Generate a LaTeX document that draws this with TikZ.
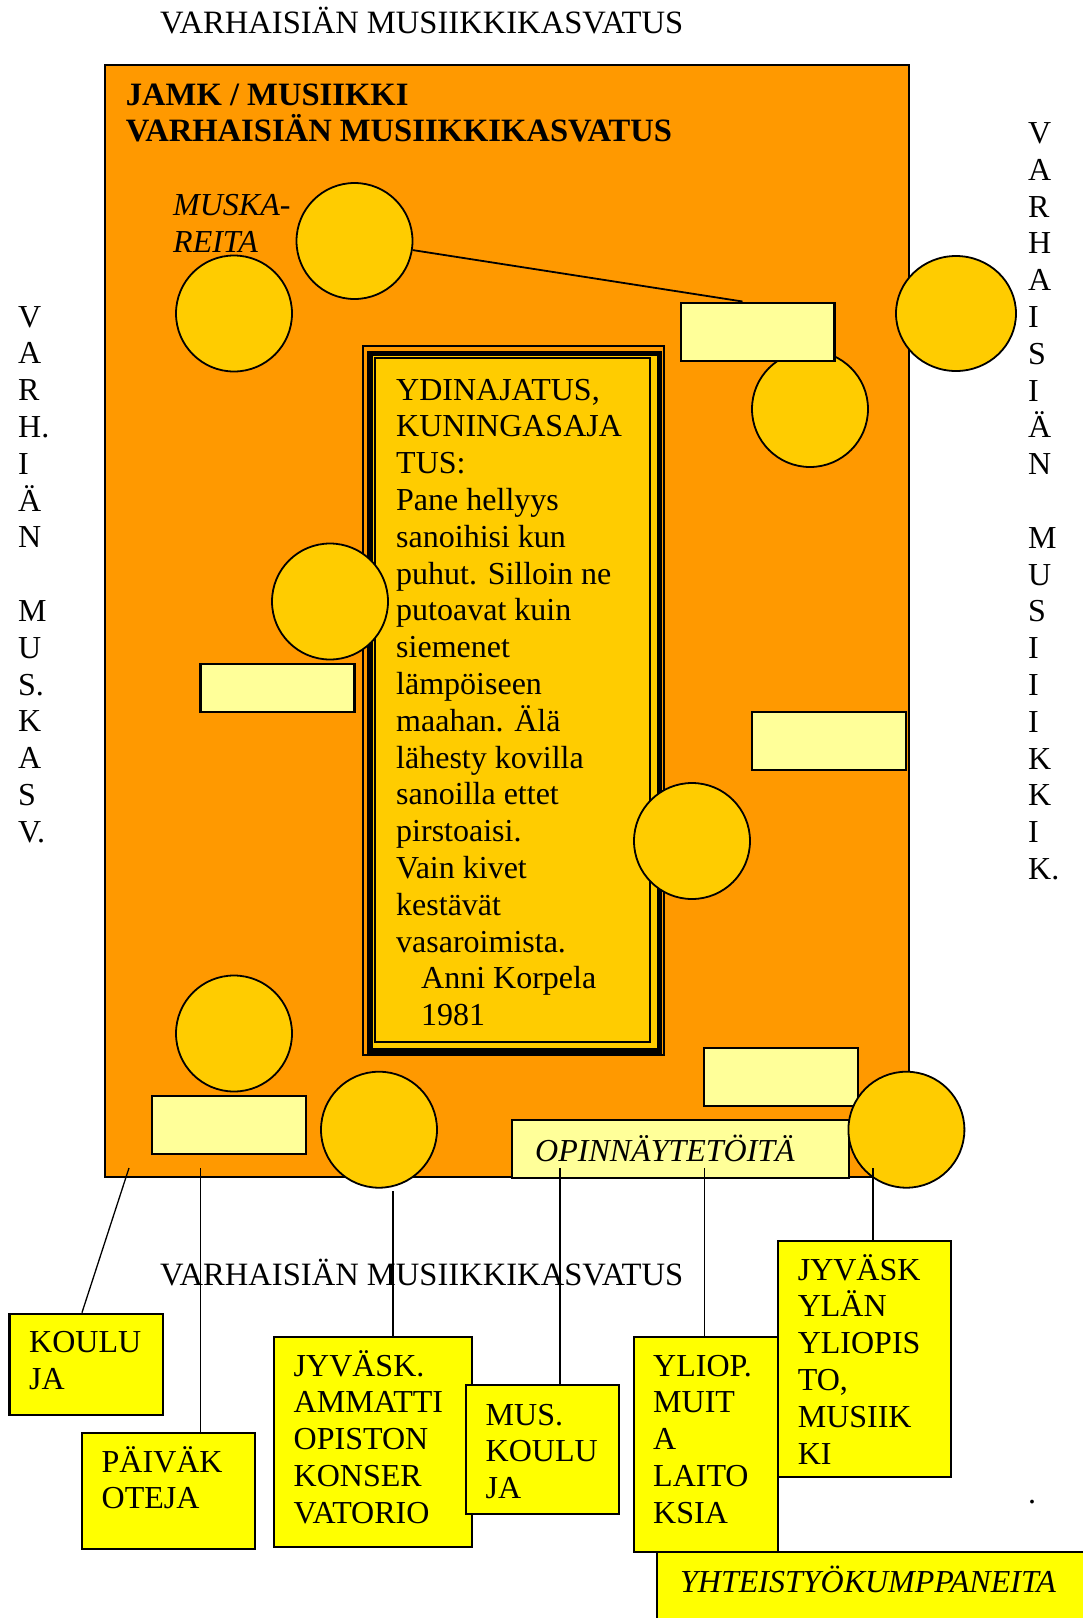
\documentclass[tikz,border=0pt]{standalone}
\usepackage{fontspec}
\setmainfont{Liberation Serif}
\usetikzlibrary{positioning,shapes.geometric}
\definecolor{jamkorange}{HTML}{FF9900}
\definecolor{ballyellow}{HTML}{FFCC00}
\definecolor{paleyellow}{HTML}{FFFF99}
\definecolor{boxyellow}{HTML}{FFFF00}

\begin{document}
\begin{tikzpicture}[
  x=1pt, y=-1pt,
  font=\fontsize{32}{36.8}\selectfont,
  mainbox/.style={draw, line width=2pt, fill=jamkorange, inner sep=0, anchor=north west},
  frameline/.style={draw, inner sep=0, anchor=north west},
  ball/.style={ellipse, draw, line width=1.8pt, fill=ballyellow, minimum width=116, minimum height=116, inner sep=0},
  slot/.style={draw, line width=2.4pt, fill=paleyellow, minimum width=154, minimum height=58, inner sep=0},
  partner/.style={draw, line width=2.2pt, fill=boxyellow, inner sep=0, anchor=north west},
  lbl/.style={inner sep=0, anchor=base west, align=left},
  link/.style={line width=1.3pt}
]
\useasboundingbox (0,0) rectangle (1083,1618);

% titles and side texts (multi-line texts are placed at their last line)
\node[lbl, font=\fontsize{32.6}{36.8}\selectfont] (toptitle) at (160,33.3) {VARHAISIÄN MUSIIKKIKASVATUS};
\node[lbl] (lefttext) at (18,842.2) {V\\A\\R\\H.\\I\\Ä\\N\\[36.8pt]M\\U\\S.\\K\\A\\S\\V.};
\node[lbl] (righttext) at (1028,879.5) {V\\A\\R\\H\\A\\I\\S\\I\\Ä\\N\\[36.8pt]M\\U\\S\\I\\I\\I\\K\\K\\I\\K.};
\node[lbl] (rightdot) at (1028,1503) {.};

% JAMK area
\node[mainbox, minimum width=804, minimum height=1112] (jamk) at (104,64) {};
\node[lbl, font=\fontsize{32.6}{36.7}\selectfont\bfseries] (jamktitle) at (125.7,141.7) {JAMK / MUSIIKKI\\VARHAISIÄN MUSIIKKIKASVATUS};
\node[lbl, font=\fontsize{32}{37}\selectfont\itshape] (muskareita) at (173,252) {MUSKA-\\REITA};

% core thought box
\node[frameline, line width=2pt, minimum width=301.3, minimum height=709] (coreout) at (361.7,345) {};
\node[frameline, line width=5.3pt, fill=ballyellow, minimum width=289.4, minimum height=697.3] (core) at (367.3,351) {};
\node[frameline, line width=2.3pt, minimum width=275.5, minimum height=683.5] (corein) at (373.5,357) {};
\node[lbl] (coretext) at (396,1025.6) {YDINAJATUS,\\KUNINGASAJA\\TUS:\\Pane hellyys\\sanoihisi kun\\puhut. Silloin ne\\putoavat kuin\\siemenet\\lämpöiseen\\maahan. Älä\\lähesty kovilla\\sanoilla ettet\\pirstoaisi.\\Vain kivet\\kestävät\\vasaroimista.\\\hspace*{25pt}Anni Korpela\\\hspace*{25pt}1981};

% empty slots and balls
\node[slot, minimum height=48] (slotB) at (277.5,688.2) {};
\node[slot] (slotC) at (829.2,741.2) {};
\node[slot] (slotD) at (781.2,1077) {};
\node[slot] (slotE) at (229,1125.2) {};
\node[slot, minimum width=337, minimum height=57.7] (opinn) at (680.5,1148.9) {};
\node[lbl, font=\fontsize{32}{36.8}\selectfont\itshape] (opinntext) at (535,1161.7) {OPINNÄYTETÖITÄ};

\node[ball] (ballA) at (354.5,241) {};
\node[ball] (ballB) at (234,313.5) {};
\node[ball, minimum width=120, minimum height=115] (ballC) at (956,313.5) {};
\node[ball] (ballD) at (810,409) {};
\node[ball] (ballE) at (330,601.5) {};
\node[ball] (ballF) at (692,841) {};
\node[ball] (ballG) at (234,1033.5) {};
\node[ball] (ballH) at (379,1129.7) {};
\node[ball] (ballI) at (906.4,1129.7) {};

\node[slot, minimum width=153.6] (slotA) at (757.5,331.7) {};
\draw[line width=1.8pt] (ballA) -- ([xshift=-15pt]slotA.north);

% lower title
\node[lbl, font=\fontsize{32.6}{36.8}\selectfont] (bottomtitle) at (160,1285) {VARHAISIÄN MUSIIKKIKASVATUS};

% partners
\node[partner, minimum width=153.7, minimum height=101.3] (koulu) at (8.3,1312.7) {};
\node[lbl] (koulutext) at (29,1389.3) {KOULU\\JA};
\node[partner, minimum width=172.7, minimum height=116] (paivak) at (80.8,1432) {};
\node[lbl] (paivaktext) at (101.5,1508.8) {PÄIVÄK\\OTEJA};
\node[partner, minimum width=198.2, minimum height=210] (ammatti) at (272.8,1336) {};
\node[lbl] (ammattitext) at (293.5,1523.2) {JYVÄSK.\\AMMATTI\\OPISTON\\KONSER\\VATORIO};
\node[partner, minimum width=153.2, minimum height=129] (muskoulu) at (464.8,1384) {};
\node[lbl] (muskoulutext) at (485.5,1498.6) {MUS.\\KOULU\\JA};
\node[partner, minimum width=144.4, minimum height=215] (yliop) at (632.6,1336) {};
\node[lbl] (yliotext) at (653,1523.2) {YLIOP.\\MUIT\\A\\LAITO\\KSIA};
\node[partner, minimum width=172.6, minimum height=236] (jyu) at (777,1240) {};
\node[lbl] (jyutext) at (797.6,1464) {JYVÄSK\\YLÄN\\YLIOPIS\\TO,\\MUSIIK\\KI};
\node[partner, minimum width=500, minimum height=100] (yhteis) at (656,1551) {};
\node[lbl, font=\fontsize{32}{36.8}\selectfont\itshape] (yhteistext) at (680,1592) {YHTEISTYÖKUMPPANEITA};

% connectors
\coordinate (kouluEnd) at (129,1168);
\coordinate (paivakEnd) at (200.3,1168);
\coordinate (ammattiEnd) at (393,1191);
\coordinate (musEnd) at (560,1168);
\coordinate (yliopEnd) at (704.4,1168);
\coordinate (jyuEnd) at (873,1168);
\draw[link] (kouluEnd) -- ([xshift=-4.3pt]koulu.north);
\draw[link] (paivakEnd) -- (paivakEnd |- paivak.north);
\draw[link] (ammattiEnd) -- (ammattiEnd |- ammatti.north);
\draw[link] (musEnd) -- (musEnd |- muskoulu.north);
\draw[link] (yliopEnd) -- (yliopEnd |- yliop.north);
\draw[link] (jyuEnd) -- (jyuEnd |- jyu.north);

\end{tikzpicture}
\end{document}
